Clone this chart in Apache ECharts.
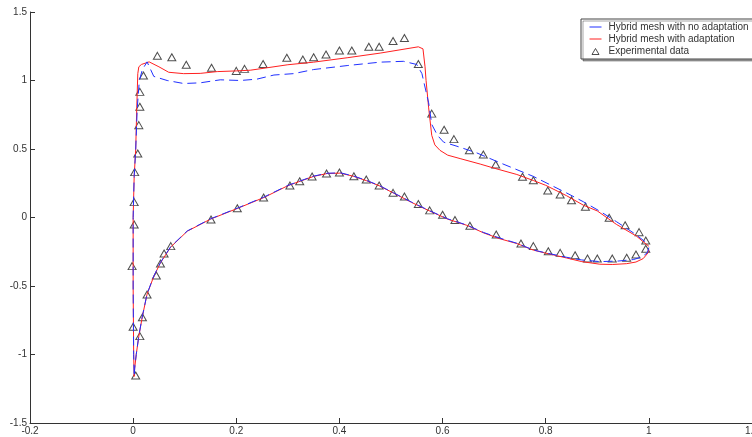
<!DOCTYPE html>
<html>
<head>
<meta charset="utf-8">
<script src="https://cdn.jsdelivr.net/npm/echarts@6/dist/echarts.min.js"></script>
<style>
  html, body { margin: 0; padding: 0; background: #fff; }
  #chart { width: 752px; height: 437px; }
</style>
</head>
<body>
<div id="chart"></div>
<script>
// axis ticks
const xTicks = [-0.2, 0, 0.2, 0.4, 0.6, 0.8, 1, 1.2];
const yTicks = [-1.5, -1, -0.5, 0, 0.5, 1, 1.5];

// hybrid mesh with adaptation (red), lower surface TE -> LE
const adaptLower = [
  [1.0, -0.234], [0.998, -0.26], [0.989, -0.3], [0.975, -0.325], [0.957, -0.337], [0.93, -0.343],
  [0.905, -0.341], [0.87, -0.322], [0.84, -0.295], [0.8, -0.26], [0.776, -0.238], [0.744, -0.19],
  [0.711, -0.155], [0.68, -0.113], [0.647, -0.057], [0.61, -0.012], [0.57, 0.056], [0.54, 0.11],
  [0.505, 0.178], [0.477, 0.232], [0.453, 0.268], [0.428, 0.3], [0.402, 0.324], [0.376, 0.321],
  [0.35, 0.3], [0.324, 0.265], [0.3, 0.232], [0.253, 0.145], [0.202, 0.066], [0.15, -0.012],
  [0.105, -0.1], [0.073, -0.215], [0.053, -0.33], [0.04, -0.43], [0.027, -0.56], [0.018, -0.72],
  [0.011, -0.866], [0.006, -1.0], [0.003, -1.1], [0.002, -1.16]
];
// red, leading edge + upper surface LE -> TE
const adaptUpper = [
  [0.001, -1.0], [0.0, -0.5], [0.0, 0.0], [0.002, 0.3], [0.005, 0.5], [0.007, 0.8], [0.009, 1.05],
  [0.011, 1.1], [0.016, 1.117], [0.031, 1.136], [0.05, 1.1], [0.069, 1.06], [0.098, 1.05],
  [0.13, 1.052], [0.163, 1.065], [0.2, 1.07], [0.227, 1.075], [0.26, 1.093], [0.3, 1.115],
  [0.35, 1.134], [0.415, 1.166], [0.479, 1.2], [0.553, 1.246], [0.562, 1.231], [0.566, 1.1],
  [0.568, 1.0], [0.573, 0.8], [0.579, 0.6], [0.585, 0.53], [0.595, 0.49], [0.61, 0.455],
  [0.634, 0.43], [0.673, 0.39], [0.7, 0.36], [0.744, 0.314], [0.776, 0.27], [0.8, 0.235],
  [0.84, 0.16], [0.873, 0.09], [0.9, 0.048], [0.937, -0.05], [0.976, -0.136], [0.99, -0.18],
  [1.0, -0.21]
];

// hybrid mesh with no adaptation (blue dashed)
const noAdaptLower = [
  [1.0, -0.22], [0.997, -0.258], [0.985, -0.29], [0.97, -0.307], [0.94, -0.318], [0.905, -0.322],
  [0.87, -0.31], [0.84, -0.29], [0.8, -0.258], [0.776, -0.237], [0.744, -0.188], [0.711, -0.15],
  [0.68, -0.11], [0.647, -0.055], [0.61, -0.01], [0.57, 0.058], [0.54, 0.112], [0.505, 0.18],
  [0.477, 0.234], [0.453, 0.27], [0.428, 0.302], [0.402, 0.326], [0.376, 0.323], [0.35, 0.302],
  [0.324, 0.267], [0.3, 0.234], [0.253, 0.148], [0.202, 0.068], [0.15, -0.01], [0.105, -0.098],
  [0.073, -0.212], [0.053, -0.328], [0.04, -0.428], [0.027, -0.558], [0.018, -0.718],
  [0.011, -0.864], [0.006, -1.0], [0.003, -1.1], [0.002, -1.16]
];
const noAdaptUpper = [
  [0.001, -1.0], [0.0, -0.5], [0.0, 0.0], [0.002, 0.3], [0.005, 0.5], [0.008, 0.8], [0.012, 1.0],
  [0.018, 1.08], [0.027, 1.136], [0.04, 1.03], [0.066, 1.0], [0.098, 0.978], [0.13, 0.983],
  [0.169, 1.005], [0.208, 1.0], [0.24, 1.01], [0.273, 1.04], [0.311, 1.05], [0.35, 1.08],
  [0.415, 1.109], [0.479, 1.134], [0.524, 1.14], [0.55, 1.117], [0.56, 1.05], [0.563, 1.0],
  [0.573, 0.837], [0.579, 0.68], [0.59, 0.6], [0.602, 0.55], [0.628, 0.52], [0.666, 0.472],
  [0.711, 0.4], [0.776, 0.3], [0.84, 0.18], [0.873, 0.115], [0.905, 0.046], [0.937, -0.03],
  [0.97, -0.112], [1.0, -0.197]
];

// experimental data
const expUpper = [
  [0.009, 0.467], [0.011, 0.674], [0.013, 0.808], [0.013, 0.917], [0.02, 1.036], [0.047, 1.18],
  [0.075, 1.17], [0.103, 1.115], [0.152, 1.093], [0.2, 1.07], [0.216, 1.085], [0.252, 1.12],
  [0.298, 1.166], [0.329, 1.153], [0.35, 1.17], [0.374, 1.19], [0.4, 1.219], [0.424, 1.219],
  [0.457, 1.246], [0.477, 1.246], [0.504, 1.288], [0.526, 1.31], [0.553, 1.12], [0.579, 0.758],
  [0.603, 0.64], [0.622, 0.572], [0.652, 0.491], [0.679, 0.46], [0.703, 0.387], [0.755, 0.297],
  [0.776, 0.272], [0.804, 0.197], [0.828, 0.168], [0.85, 0.126], [0.877, 0.078], [0.923, -0.002],
  [0.954, -0.056], [0.981, -0.107], [0.994, -0.168], [0.994, -0.228]
];
const expLower = [
  [0.975, -0.27], [0.957, -0.294], [0.929, -0.299], [0.9, -0.299], [0.881, -0.299], [0.857, -0.275],
  [0.828, -0.258], [0.805, -0.246], [0.776, -0.209], [0.752, -0.19], [0.704, -0.124], [0.653, -0.06],
  [0.624, -0.018], [0.6, 0.02], [0.575, 0.052], [0.553, 0.098], [0.526, 0.153], [0.504, 0.18],
  [0.477, 0.234], [0.452, 0.277], [0.428, 0.301], [0.4, 0.328], [0.375, 0.321], [0.347, 0.299],
  [0.323, 0.265], [0.304, 0.234], [0.253, 0.146], [0.202, 0.068], [0.151, -0.015], [0.073, -0.209],
  [0.06, -0.263], [0.053, -0.336], [0.045, -0.423], [0.027, -0.562], [0.018, -0.728],
  [0.013, -0.866], [0.005, -1.153]
];
const expLeadingEdge = [
  [0.003, 0.331], [0.002, 0.112], [0.002, -0.051], [-0.002, -0.355], [0.0, -0.798]
];

const FONT = 'Liberation Sans, Arial, sans-serif';
const chart = echarts.init(document.getElementById('chart'), null, { renderer: 'canvas' });

const axisCommon = {
  type: 'value',
  axisLine: { onZero: false, lineStyle: { color: '#333', width: 1 } },
  axisTick: { inside: true, length: 5, lineStyle: { color: '#333' } },
  splitLine: { show: false },
  axisLabel: { color: '#333', fontSize: 10, fontFamily: FONT, margin: 3, showMaxLabel: true, showMinLabel: true }
};

// legend line icons: no marker in the middle, thin line
const noMarker = { color: 'transparent', borderColor: 'transparent', borderWidth: 0 };
// small hollow triangle inside a 12x9 box
const smallTriangle = 'path://M0,0 M12,9 M2.5,8 L9.5,8 L6,2 Z';

chart.setOption({
  animation: false,
  backgroundColor: '#fff',
  grid: { left: 30, right: 0, top: 12, bottom: 14, containLabel: false, outerBoundsMode: 'none' },
  xAxis: Object.assign({}, axisCommon, {
    min: xTicks[0], max: xTicks[xTicks.length - 1], interval: 0.2
  }),
  yAxis: Object.assign({}, axisCommon, {
    min: yTicks[0], max: yTicks[yTicks.length - 1], interval: 0.5
  }),
  legend: {
    orient: 'vertical',
    left: 581, top: 19,
    padding: [3, 5, 3, 8],
    itemGap: 2,
    itemWidth: 12, itemHeight: 9,
    backgroundColor: '#fff',
    borderColor: '#444', borderWidth: 1, borderRadius: 0,
    shadowColor: 'rgba(0,0,0,0.35)', shadowOffsetX: 2, shadowOffsetY: 2, shadowBlur: 0,
    textStyle: { color: '#333', fontSize: 10, fontFamily: FONT, padding: [0, 0, 0, 2] },
    data: [
      { name: 'Hybrid mesh with no adaptation', lineStyle: { type: 'solid', width: 1 }, itemStyle: noMarker },
      { name: 'Hybrid mesh with adaptation', lineStyle: { width: 1 }, itemStyle: noMarker },
      { name: 'Experimental data', icon: smallTriangle, itemStyle: { color: 'transparent', borderColor: '#222', borderWidth: 1 } }
    ]
  },
  series: [
    {
      name: 'Hybrid mesh with adaptation',
      type: 'line',
      symbol: 'none',
      color: '#ff2020',
      lineStyle: { color: '#ff2020', width: 1 },
      data: adaptLower.concat(adaptUpper)
    },
    {
      name: 'Hybrid mesh with no adaptation',
      type: 'line',
      symbol: 'none',
      color: '#2030ff',
      lineStyle: { color: '#2030ff', width: 1, type: [9, 5] },
      data: noAdaptLower.concat(noAdaptUpper)
    },
    {
      name: 'Experimental data',
      type: 'scatter',
      symbol: 'triangle',
      symbolSize: [8, 7],
      itemStyle: { color: 'transparent', borderColor: '#222', borderWidth: 1 },
      data: expUpper.concat(expLower, expLeadingEdge)
    }
  ]
});
</script>
</body>
</html>
